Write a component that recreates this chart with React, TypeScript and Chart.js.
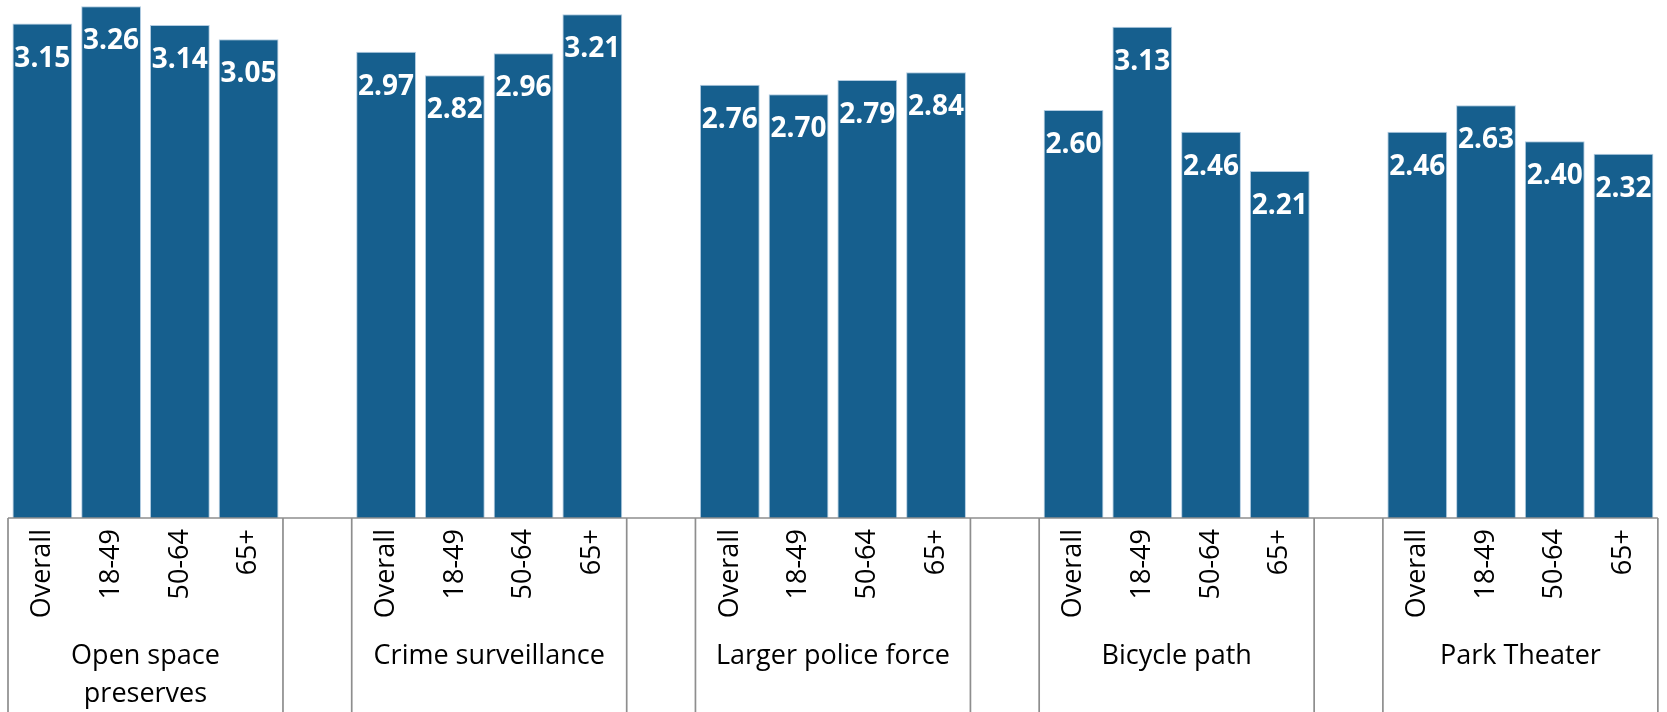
import React, { useEffect, useRef } from "react";
import { Chart, registerables } from "chart.js";

Chart.register(...registerables);

const groupLabels = [
  "Open space preserves",
  "Crime surveillance",
  "Larger police force",
  "Bicycle path",
  "Park Theater",
];
const ageLabels = ["Overall", "18-49", "50-64", "65+"];

const openSpace = [3.15, 3.26, 3.14, 3.05];
const crimeSurveillance = [2.97, 2.82, 2.96, 3.21];
const policeForce = [2.76, 2.7, 2.79, 2.84];
const bicyclePath = [2.6, 3.13, 2.46, 2.21];
const parkTheater = [2.46, 2.63, 2.4, 2.32];

const groupValues = [openSpace, crimeSurveillance, policeForce, bicyclePath, parkTheater];

const BAR_COLOR = "#165F8E";
const LINE_COLOR = "#8E8E8E";
const FONT = "'Open Sans', 'Noto Sans', sans-serif";

// build slots: 4 bars per group + an empty gap slot between groups
const slotLabels: string[] = [];
const slotValues: (number | null)[] = [];
groupValues.forEach((vals, gi) => {
  vals.forEach((v, i) => {
    slotLabels.push(ageLabels[i]);
    slotValues.push(v);
  });
  if (gi < groupValues.length - 1) {
    slotLabels.push("");
    slotValues.push(null);
  }
});

const groupPlugin = {
  id: "groupAxis",
  afterDraw(chart: any) {
    const { ctx, chartArea, scales } = chart;
    const xs = scales.x;
    const slot = xs.getPixelForValue(1) - xs.getPixelForValue(0);
    const bottom = chart.height;
    ctx.save();
    // axis line
    ctx.strokeStyle = LINE_COLOR;
    ctx.lineWidth = 1.4;
    ctx.beginPath();
    ctx.moveTo(chartArea.left, chartArea.bottom);
    ctx.lineTo(chartArea.right, chartArea.bottom);
    ctx.stroke();
    ctx.lineWidth = 1.7;
    ctx.font = `27px ${FONT}`;
    ctx.fillStyle = "#000";
    ctx.textAlign = "center";
    ctx.textBaseline = "alphabetic";
    groupLabels.forEach((label, gi) => {
      const k0 = gi * 5;
      const left = xs.getPixelForValue(k0) - slot / 2;
      const right = xs.getPixelForValue(k0 + 3) + slot / 2;
      ctx.beginPath();
      ctx.moveTo(left, chartArea.bottom);
      ctx.lineTo(left, bottom);
      ctx.moveTo(right, chartArea.bottom);
      ctx.lineTo(right, bottom);
      ctx.stroke();
      // wrap words
      const maxW = right - left - 10;
      const words = label.split(" ");
      const lines: string[] = [];
      let cur = "";
      words.forEach((w) => {
        const test = cur ? cur + " " + w : w;
        if (ctx.measureText(test).width > maxW && cur) {
          lines.push(cur);
          cur = w;
        } else {
          cur = test;
        }
      });
      if (cur) lines.push(cur);
      const cx = (left + right) / 2;
      lines.forEach((ln, li) => {
        ctx.fillText(ln, cx, chartArea.bottom + 146 + li * 38.4);
      });
    });
    ctx.restore();
  },
};

const valueLabelPlugin = {
  id: "valueLabels",
  afterDatasetsDraw(chart: any) {
    const { ctx } = chart;
    const meta = chart.getDatasetMeta(0);
    const data = chart.data.datasets[0].data;
    ctx.save();
    ctx.font = `bold 28px ${FONT}`;
    ctx.fillStyle = "#FFFFFF";
    ctx.textAlign = "center";
    ctx.textBaseline = "alphabetic";
    meta.data.forEach((bar: any, i: number) => {
      const v = data[i];
      if (v === null || v === undefined) return;
      ctx.fillText(Number(v).toFixed(2), bar.x, bar.y + 43);
    });
    ctx.restore();
  },
};

export default function App() {
  const ref = useRef<HTMLCanvasElement | null>(null);
  useEffect(() => {
    if (!ref.current) return;
    const chart = new Chart(ref.current, {
      type: "bar",
      data: {
        labels: slotLabels,
        datasets: [
          {
            data: slotValues as any,
            backgroundColor: BAR_COLOR,
            borderColor: "rgba(170,198,222,0.9)",
            borderWidth: 1,
            categoryPercentage: 1,
            barPercentage: 0.87,
          },
        ],
      },
      options: {
        animation: false,
        responsive: true,
        maintainAspectRatio: false,
        layout: { padding: { left: 8, right: 5, top: 0, bottom: 0 } },
        plugins: {
          legend: { display: false },
          tooltip: { enabled: false },
        },
        scales: {
          y: { display: false, min: 0, max: 3.3 },
          x: {
            grid: { display: false, drawTicks: false },
            border: { display: false },
            ticks: {
              autoSkip: false,
              minRotation: 90,
              maxRotation: 90,
              padding: 11,
              color: "#000",
              font: { family: FONT, size: 27 },
            },
            afterFit: (scale: any) => {
              scale.height = 194;
            },
          },
        },
      },
      plugins: [groupPlugin, valueLabelPlugin],
    });
    return () => chart.destroy();
  }, []);
  return (
    <div style={{ position: "absolute", left: 0, top: 0, width: 1667, height: 712, background: "#fff" }}>
      <canvas ref={ref} />
    </div>
  );
}
